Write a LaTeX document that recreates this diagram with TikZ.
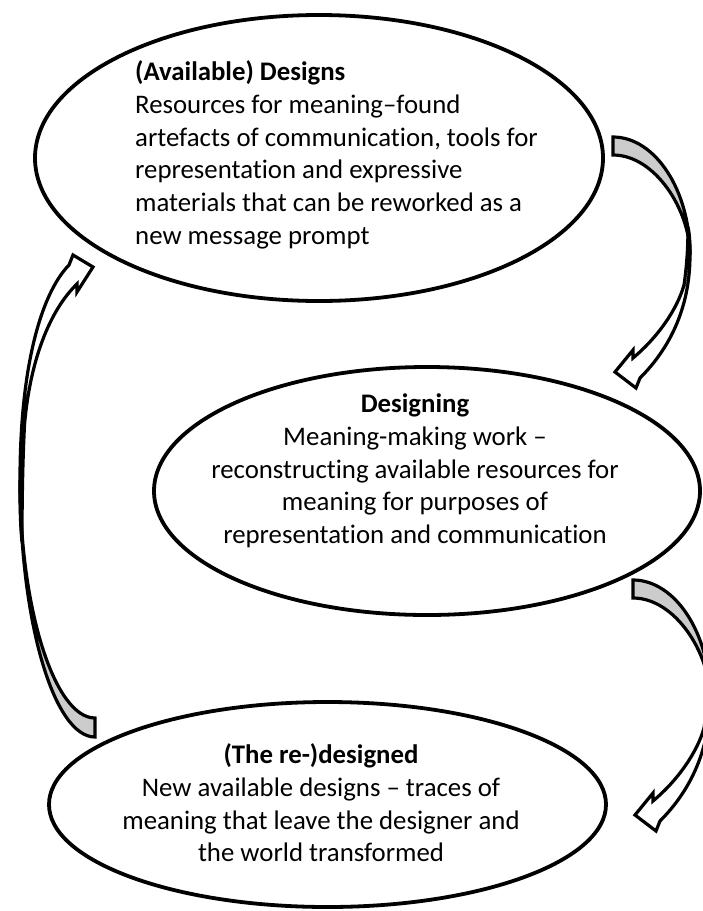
\documentclass[tikz,border=0pt]{standalone}
\usepackage{fontspec}
\setmainfont{Carlito}[Ligatures=NoCommon]
\usetikzlibrary{shapes.geometric}
\tikzset{
  bubble/.style={ellipse, draw=black, line width=3.8pt, fill=white, inner sep=0pt},
  txt/.style={font=\fontsize{26.8}{32.7}\selectfont, inner sep=0pt, text=black},
  backface/.style={fill=black!20, draw=black, line width=3.2pt, line join=miter, miter limit=4},
  frontface/.style={fill=white, draw=black, line width=3.2pt, line join=miter, miter limit=4},
}
\newcommand\rightbendarrow{%
  \filldraw[backface] (613,137) .. controls (655,137) and (690,190) .. (690,255)
     .. controls (690,210) and (655,155) .. (613,155) -- cycle;
  \filldraw[frontface] (688,227) .. controls (690,237) and (690,246) .. (690,255)
     .. controls (690,310) and (668,350) .. (640,378) -- (636,388) -- (615,372)
     -- (633,350) -- (633,358) .. controls (657,338) and (677,310) .. (684,285)
     .. controls (687,265) and (688,245) .. (688,227) -- cycle;
}
\begin{document}
\begin{tikzpicture}[x=1pt,y=-1pt]
\useasboundingbox (0,0) rectangle (703,911);
\fill[white] (0,0) rectangle (703,911);

% ellipses
\node[bubble, minimum width=568pt, minimum height=286pt] (e1) at (319,158) {};
\node[bubble, minimum width=546pt, minimum height=248pt] (e2) at (427,491) {};
\node[bubble, minimum width=557pt, minimum height=205pt] (e3) at (327.5,804.5) {};

% texts
\node[txt, align=left, anchor=west] (t1) at (135,155)
  {\textbf{(Available) Designs}\\Resources for meaning–found\\artefacts of communication, tools for\\representation and expressive\\materials that can be reworked as a\\new message prompt};
\node[txt, align=center] (t2) at (415,471)
  {\textbf{Designing}\\Meaning-making work –\\reconstructing available resources for\\meaning for purposes of\\representation and communication};
\node[txt, align=center] (t3) at (321,803)
  {\textbf{(The re-)designed}\\New available designs – traces of\\meaning that leave the designer and\\the world transformed};

% curved block arrows
\rightbendarrow
\begin{scope}[shift={(20,443)}]
  \rightbendarrow
\end{scope}

\filldraw[backface] (95,737) .. controls (54,737) and (20,622) .. (20,480)
   .. controls (20,610) and (55,718) .. (95,718) -- cycle;
\filldraw[frontface] (22,542) .. controls (20,521) and (20,501) .. (20,480)
   .. controls (20,370) and (40,295) .. (69,265) -- (73,255) -- (93,267)
   -- (77,292) -- (77,284) .. controls (50,310) and (30,360) .. (24.5,425)
   .. controls (22.5,465) and (22,505) .. (22,542) -- cycle;
\end{tikzpicture}
\end{document}
